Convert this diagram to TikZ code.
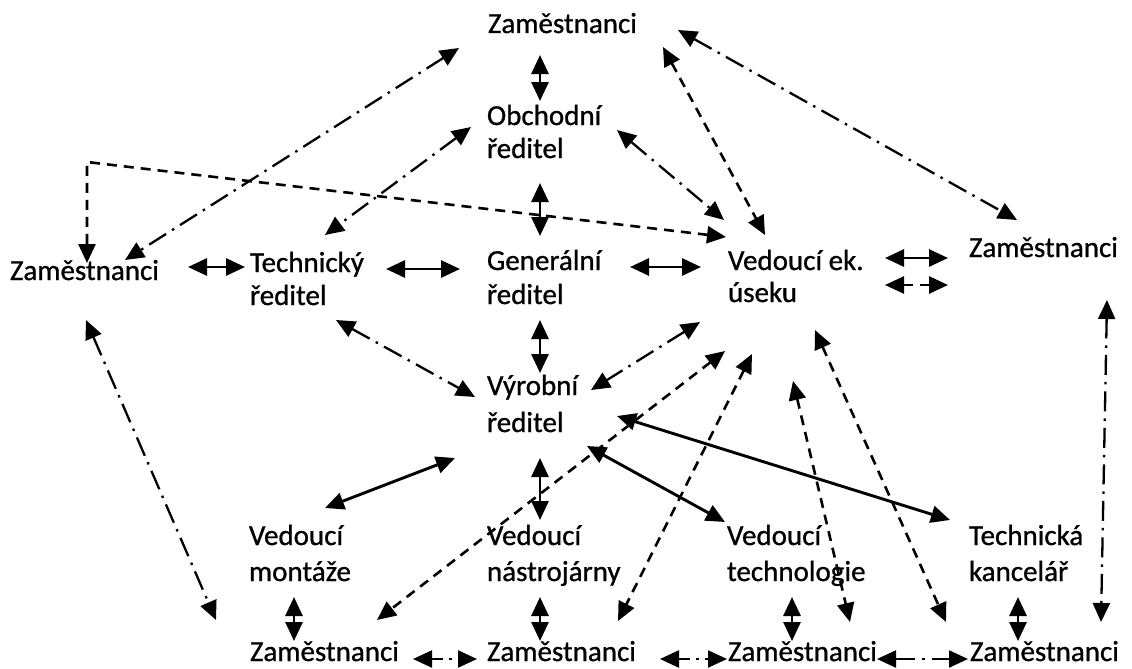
\documentclass[tikz,border=0pt]{standalone}
\usepackage{fontspec}
\setmainfont{Carlito}[FakeBold=0.9]
\usetikzlibrary{arrows.meta}

% two-line label; #1 = distance between the two baselines
\newcommand\twol[3]{{\fontsize{29}{#1}\selectfont\begin{tabular}[t]{@{}l@{}}#2\\#3\end{tabular}}}

\tikzset{
  hd/.tip={Triangle[length=19pt, width=17pt]},
  lbl/.style={anchor=base west, inner sep=0pt, outer sep=0pt, font=\fontsize{29}{34}\selectfont},
  sa/.style={hd-hd, line width=2.9pt},
  da/.style={hd-hd, line width=2.6pt, dash pattern=on 10pt off 7pt},
  dd/.style={hd-hd, line width=2.3pt, dash pattern=on 20pt off 7pt on 2.5pt off 7pt},
  ddshort/.style={dd, dash pattern=on 12pt off 6pt on 2.5pt off 6pt},
}

\begin{document}
\begin{tikzpicture}[x=1pt, y=-1pt]
\useasboundingbox (0,0) rectangle (1132,669);

% labels
\node[lbl] (zt)   at (488,33)  {Zaměstnanci};
\node[lbl] (obch) at (487,125) {\twol{33}{Obchodní}{ředitel}};
\node[lbl] (tech) at (250,272) {\twol{33}{Technický}{ředitel}};
\node[lbl] (gen)  at (487,270) {\twol{34}{Generální}{ředitel}};
\node[lbl] (vek)  at (728,270) {\twol{32}{Vedoucí ek.}{úseku}};
\node[lbl] (zl)   at (10,280)  {Zaměstnanci};
\node[lbl] (zr)   at (969,257) {Zaměstnanci};
\node[lbl] (vyr)  at (487,395) {\twol{37}{Výrobní}{ředitel}};
\node[lbl] (mont) at (249,545) {\twol{36}{Vedoucí}{montáže}};
\node[lbl] (nast) at (487,545) {\twol{36}{Vedoucí}{nástrojárny}};
\node[lbl] (tchn) at (727,545) {\twol{36}{Vedoucí}{technologie}};
\node[lbl] (tk)   at (969,545) {\twol{36}{Technická}{kancelář}};
\node[lbl] (z1)   at (250,661) {Zaměstnanci};
\node[lbl] (z2)   at (487,661) {Zaměstnanci};
\node[lbl] (z3)   at (728,661) {Zaměstnanci};
\node[lbl] (z4)   at (970,661) {Zaměstnanci};

\coordinate (bend) at (87,162);

% solid links
\draw[sa] ([shift={(52,22)}]zt.base west)    -- ([shift={(53,-24)}]obch.base west);
\draw[sa] ([shift={(53,58)}]obch.base west)  -- ([shift={(53,-34)}]gen.base west);
\draw[sa] ([shift={(178,-13)}]zl.base west)  -- ([shift={(-5,-5)}]tech.base west);
\draw[sa] ([shift={(136,-3)}]tech.base west) -- ([shift={(-27,-1)}]gen.base west);
\draw[sa] ([shift={(143,-3)}]gen.base west)  -- ([shift={(-27,-3)}]vek.base west);
\draw[sa] ([shift={(157,-12)}]vek.base west) -- ([shift={(-21,1)}]zr.base west);
\draw[sa] ([shift={(53,50)}]gen.base west)   -- ([shift={(53,-22)}]vyr.base west);
\draw[sa] ([shift={(-32,63)}]vyr.base west)  -- ([shift={(76,-37)}]mont.base west);
\draw[sa] ([shift={(53,63)}]vyr.base west)   -- ([shift={(53,-25)}]nast.base west);
\draw[sa] ([shift={(100,51)}]vyr.base west)  -- ([shift={(-2,-23)}]tchn.base west);
\draw[sa] ([shift={(130,21)}]vyr.base west)  -- ([shift={(-19,-25)}]tk.base west);
\draw[sa] ([shift={(45,52)}]mont.base west)  -- ([shift={(44,-20)}]z1.base west);
\draw[sa] ([shift={(53,52)}]nast.base west)  -- ([shift={(53,-20)}]z2.base west);
\draw[sa] ([shift={(65,52)}]tchn.base west)  -- ([shift={(64,-20)}]z3.base west);
\draw[sa] ([shift={(49,52)}]tk.base west)    -- ([shift={(48,-20)}]z4.base west);

% dash-dot links
\draw[dd] ([shift={(-29,15)}]zt.base west)   -- ([shift={(115,-20)}]zl.base west);
\draw[dd] ([shift={(-16,2)}]obch.base west)  -- ([shift={(75,-37)}]tech.base west);
\draw[dd] ([shift={(190,-3)}]zt.base west)   -- ([shift={(48,-37)}]zr.base west);
\draw[dd] ([shift={(130,5)}]obch.base west)  -- ([shift={(-4,-50)}]vek.base west);
\draw[dd] ([shift={(86,48)}]tech.base west)  -- ([shift={(-12,2)}]vyr.base west);
\draw[dd] ([shift={(-28,52)}]vek.base west)  -- ([shift={(104,-5)}]vyr.base west);
\draw[dd] ([shift={(76,40)}]zl.base west)    -- ([shift={(-34,-41)}]z1.base west);
\draw[dd] ([shift={(138,43)}]zr.base west)   -- ([shift={(131,-39)}]z4.base west);
\draw[ddshort] ([shift={(163,-2)}]z1.base west) -- ([shift={(-10,-2)}]z2.base west);
\draw[ddshort] ([shift={(173,-2)}]z2.base west) -- ([shift={(-1,-2)}]z3.base west);
\draw[dd] ([shift={(149,-2)}]z3.base west)   -- ([shift={(-2,-2)}]z4.base west);

% dashed links
\draw[da] ([shift={(-2,-33)}]vek.base west) -- (bend) -- ([shift={(77,-17)}]zl.base west);
\draw[da] ([shift={(175,14)}]zt.base west)  -- ([shift={(37,-35)}]vek.base west);
\draw[da] ([shift={(157,15)}]vek.base west) -- ([shift={(-21,28)}]zr.base west);
\draw[da] ([shift={(-3,81)}]vek.base west)  -- ([shift={(127,-41)}]z1.base west);
\draw[da] ([shift={(24,84)}]vek.base west)  -- ([shift={(131,-40)}]z2.base west);
\draw[da] ([shift={(65,111)}]vek.base west) -- ([shift={(122,-39)}]z3.base west);
\draw[da] ([shift={(87,60)}]vek.base west)  -- ([shift={(-24,-39)}]z4.base west);
\end{tikzpicture}
\end{document}
